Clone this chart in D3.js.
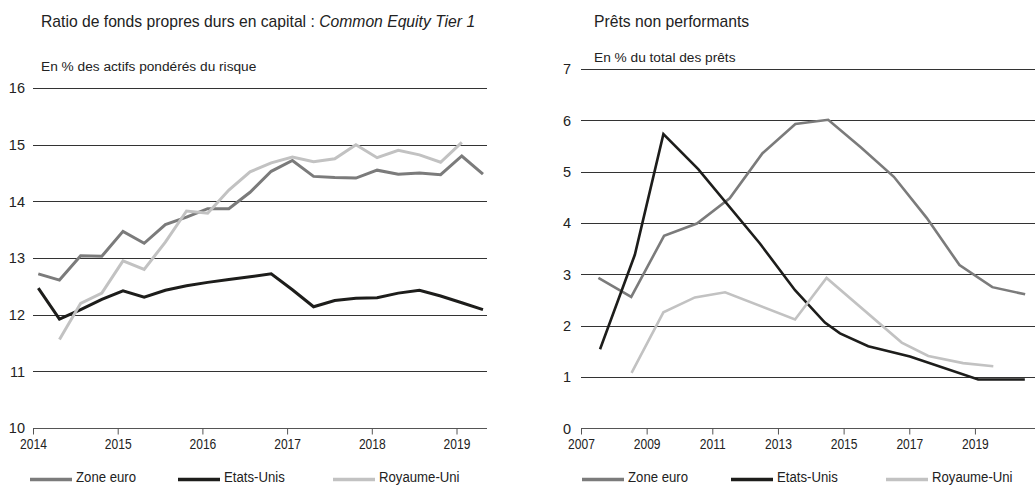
<!DOCTYPE html>
<html><head><meta charset="utf-8">
<script src="https://cdn.jsdelivr.net/npm/d3@7"></script>
<style>
body{margin:0;background:#fff;}
svg{display:block;font-family:"Liberation Sans",Arial,Helvetica,sans-serif;}
</style></head>
<body><svg id="c" width="1035" height="485"></svg>
<script>
// ---------- Left panel: CET1 ratio (quarterly) ----------
const cet1Quarters = ["2014T1","2014T2","2014T3","2014T4","2015T1","2015T2","2015T3","2015T4",
  "2016T1","2016T2","2016T3","2016T4","2017T1","2017T2","2017T3","2017T4",
  "2018T1","2018T2","2018T3","2018T4","2019T1","2019T2"];
const cet1Euro = [12.72,12.61,13.04,13.03,13.47,13.26,13.59,13.72,13.87,13.87,14.16,14.53,
  14.72,14.44,14.42,14.41,14.55,14.48,14.50,14.47,14.80,14.48];
const cet1US = [12.47,11.92,12.09,12.27,12.42,12.31,12.43,12.51,12.57,12.62,12.67,12.72,
  12.44,12.14,12.25,12.29,12.30,12.38,12.43,12.33,12.21,12.09];
const cet1UK = [null,11.56,12.20,12.38,12.95,12.80,13.28,13.83,13.79,14.20,14.52,14.68,
  14.78,14.70,14.75,15.00,14.77,14.90,14.82,14.69,15.04,null];
const cet1YTicks = [10,11,12,13,14,15,16];
const cet1XTicks = [2014,2015,2016,2017,2018,2019];

// ---------- Right panel: NPL (annual-ish observations) ----------
const nplEuroDates = [2007.53,2008.53,2009.53,2010.53,2011.53,2012.53,2013.53,2014.53,2015.53,2016.53,2017.53,2018.53,2019.53,2020.53];
const nplEuro = [2.93,2.56,3.75,3.99,4.48,5.36,5.93,6.01,5.47,4.90,4.10,3.18,2.75,2.61];
const nplUSDates = [2007.58,2008.64,2009.51,2010.57,2012.45,2013.52,2014.43,2014.89,2015.75,2017.02,2019.10,2020.52];
const nplUS = [1.54,3.38,5.73,5.05,3.60,2.69,2.06,1.85,1.60,1.40,0.95,0.95];
const nplUKDates = [2008.54,2009.51,2010.47,2011.39,2013.52,2014.48,2016.77,2017.58,2018.64,2019.56];
const nplUK = [1.08,2.26,2.55,2.65,2.12,2.93,1.67,1.41,1.27,1.21];
const nplYTicks = [0,1,2,3,4,5,6,7];
const nplXTicks = [2007,2009,2011,2013,2015,2017,2019];

const seriesNames = ["Zone euro","Etats-Unis","Royaume-Uni"];
const colors = {"Zone euro":"#7b7b7b","Etats-Unis":"#1d1d1b","Royaume-Uni":"#c2c2c2"};
const ink = "#222";

const svg = d3.select("#c");

function quarterToYear(q){ const y=+q.slice(0,4), n=+q.slice(5); return y + (n-1)*0.25 + 0.0625; }

// horizontally condense a text element (the original uses a condensed face)
function condense(sel, f){
  sel.each(function(){
    const w = this.getComputedTextLength();
    d3.select(this).attr("textLength", w*f).attr("lengthAdjust","spacingAndGlyphs");
  });
}

function panel(opt){
  const g = svg.append("g");
  const x = d3.scaleLinear().domain(opt.xDomain).range(opt.xRange);
  const y = d3.scaleLinear().domain(opt.yDomain).range(opt.yRange);
  // gridlines
  g.selectAll(".grid").data(opt.yTicks.slice(1)).join("line")
    .attr("x1", opt.xRange[0]).attr("x2", opt.gridEnd)
    .attr("y1", d=>Math.round(y(d))+0.5).attr("y2", d=>Math.round(y(d))+0.5)
    .attr("stroke","#333").attr("stroke-width",1);
  // y labels
  g.selectAll(".yl").data(opt.yTicks).join("text")
    .attr("x", opt.yLabelX).attr("y", d=>y(d)).attr("dy","0.36em")
    .attr("text-anchor","end").attr("font-size",14.5).attr("fill",ink).text(d=>d);
  // x axis
  const ax = g.append("g").attr("transform",`translate(0,${Math.round(y(opt.yDomain[0]))+0.5})`)
    .call(d3.axisBottom(x).tickValues(opt.xTicks).tickFormat(d3.format("d")).tickSize(6).tickSizeOuter(0));
  ax.select(".domain").attr("stroke","#555").attr("d",`M${opt.xRange[0]},0H${opt.gridEnd}`);
  ax.selectAll(".tick line").attr("stroke","#555");
  ax.selectAll(".tick text").attr("font-size",14).attr("font-family","Liberation Sans, Arial, sans-serif")
    .attr("fill",ink).attr("dy","0.85em");
  condense(ax.selectAll(".tick text"), 0.86);
  // lines
  const line = d3.line().defined(d=>d[1]!=null).x(d=>x(d[0])).y(d=>y(d[1]));
  opt.series.forEach(s=>{
    g.append("path").datum(s.data).attr("fill","none").attr("stroke",colors[s.name])
      .attr("stroke-width",opt.lw).attr("stroke-linejoin","miter").attr("d",line);
  });
  // titles
  const t = g.append("text").attr("x",opt.titleX).attr("y",27).attr("font-size",15.7).attr("fill",ink);
  opt.title.forEach(p=>t.append("tspan").attr("font-style",p.italic?"italic":null).text(p.text));
  g.append("text").attr("x",opt.titleX).attr("y",opt.subY).attr("font-size",13.7).attr("fill",ink).text(opt.subtitle);
  // legend
  seriesNames.forEach((n,i)=>{
    const lx = opt.legendX[i];
    g.append("line").attr("x1",lx).attr("x2",lx+42).attr("y1",479.5).attr("y2",479.5)
      .attr("stroke",colors[n]).attr("stroke-width",3.5);
    const tx = g.append("text").attr("x",lx+46).attr("y",482).attr("font-size",15.5)
      .attr("fill",ink).text(n);
    condense(tx, 0.85);
  });
}

panel({
  xDomain:[2014,2019.36], xRange:[33,487], gridEnd:487,
  yDomain:[10,16], yRange:[428,88], yTicks:cet1YTicks, xTicks:cet1XTicks, yLabelX:25,
  lw:3,
  series:[
    {name:"Zone euro", data:cet1Quarters.map((q,i)=>[quarterToYear(q),cet1Euro[i]])},
    {name:"Etats-Unis", data:cet1Quarters.map((q,i)=>[quarterToYear(q),cet1US[i]])},
    {name:"Royaume-Uni", data:cet1Quarters.map((q,i)=>[quarterToYear(q),cet1UK[i]])}
  ],
  titleX:41, title:[{text:"Ratio de fonds propres durs en capital : "},{text:"Common Equity Tier 1",italic:true}],
  subY:71, subtitle:"En % des actifs pondérés du risque",
  legendX:[30,178,333]
});

panel({
  xDomain:[2007,2020.83], xRange:[581,1035], gridEnd:1035,
  yDomain:[0,7], yRange:[428.3,69], yTicks:nplYTicks, xTicks:nplXTicks, yLabelX:571,
  lw:2.6,
  series:[
    {name:"Zone euro", data:nplEuroDates.map((d,i)=>[d,nplEuro[i]])},
    {name:"Etats-Unis", data:nplUSDates.map((d,i)=>[d,nplUS[i]])},
    {name:"Royaume-Uni", data:nplUKDates.map((d,i)=>[d,nplUK[i]])}
  ],
  titleX:594, title:[{text:"Prêts non performants"}],
  subY:62, subtitle:"En % du total des prêts",
  legendX:[582,731,886]
});
</script></body></html>
